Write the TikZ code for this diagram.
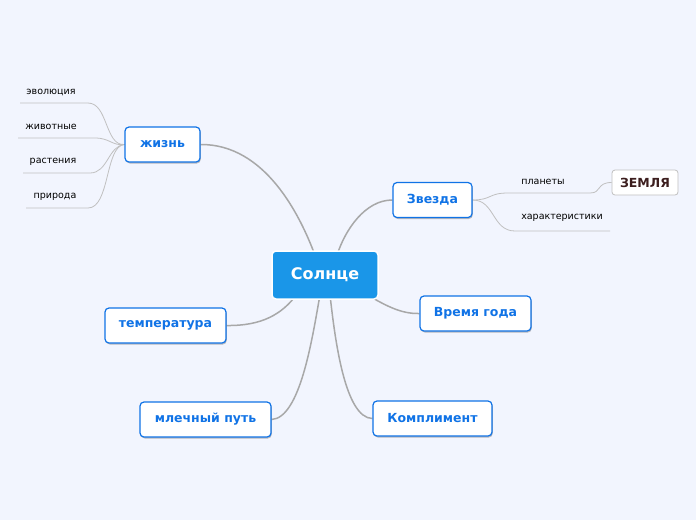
\documentclass[tikz,border=0pt]{standalone}
\usepackage{fontspec}
\setmainfont{DejaVu Sans}
\usetikzlibrary{shadows,calc}
\definecolor{bg}{RGB}{242,245,254}
\definecolor{mainblue}{RGB}{26,150,232}
\definecolor{txtblue}{RGB}{16,115,230}
\definecolor{edgegrey}{RGB}{168,168,168}
\definecolor{leafgrey}{RGB}{192,192,192}
\definecolor{earth}{RGB}{60,30,30}
\pgfdeclarelayer{bglayer}
\pgfdeclarelayer{edgelayer}
\pgfsetlayers{bglayer,edgelayer,main}
\begin{document}
\begin{tikzpicture}[x=1pt,y=-1pt,
  topic/.style={draw=txtblue, line width=1.2pt, fill=white, rounded corners=4pt,
    text=txtblue, font=\bfseries\fontsize{12.5}{14}\selectfont,
    minimum height=35pt, inner xsep=0pt,
    drop shadow={shadow xshift=0.8pt, shadow yshift=-1.5pt, fill=black, opacity=0.25}},
  central/.style={draw=white, line width=1.5pt, fill=mainblue, rounded corners=4pt,
    text=white, font=\bfseries\fontsize{16}{18}\selectfont,
    minimum width=106pt, minimum height=48pt, inner xsep=0pt},
  earthbox/.style={draw=leafgrey, line width=0.8pt, fill=white, rounded corners=3pt,
    text=earth, font=\bfseries\fontsize{12.5}{14}\selectfont,
    minimum width=66pt, minimum height=25pt, inner xsep=0pt},
  leaf/.style={text=black, font=\fontsize{9.5}{11}\selectfont, inner sep=0pt},
  mainedge/.style={draw=edgegrey, line width=1.5pt},
  leafedge/.style={draw=leafgrey, line width=0.8pt}
]
\begin{pgfonlayer}{bglayer}
\fill[bg] (0,0) rectangle (696,520);
\end{pgfonlayer}
\useasboundingbox (0,0) rectangle (696,520);

\node[central] (sun) at (325,275) {Солнце};
\node[topic, minimum width=75pt] (jizn) at (162.5,144.5) {жизнь};
\node[topic, minimum width=79pt] (zvezda) at (432.5,200) {Звезда};
\node[topic, minimum width=111pt] (vremya) at (475.5,313.5) {Время года};
\node[topic, minimum width=119pt] (kompl) at (432.5,418.5) {Комплимент};
\node[topic, minimum width=131pt] (mlech) at (205.5,419.5) {млечный путь};
\node[topic, minimum width=121pt] (temp) at (165.5,325.5) {температура};
\node[earthbox] (zemlya) at (645,182.5) {ЗЕМЛЯ};

\node[leaf] (evol) at (51,92) {эволюция};
\node[leaf] (zhiv) at (51,127) {животные};
\node[leaf] (rast) at (53,162) {растения};
\node[leaf] (prir) at (55,197) {природа};
\node[leaf] (plan) at (543,182) {планеты};
\node[leaf] (char) at (562,218) {характеристики};

\coordinate (evolL) at (20,103);
\coordinate (zhivL) at (18,138);
\coordinate (rastL) at (23,173);
\coordinate (prirL) at (26,208);
\coordinate (charR) at (610,231);

\begin{pgfonlayer}{edgelayer}
\draw[mainedge] (jizn.east) .. controls (265,144) and (300,215) .. ($(sun.north)+(-10,5)$);
\draw[mainedge] (zvezda.west) .. controls (365,200) and (345,230) .. ($(sun.north)+(12,5)$);
\draw[mainedge] (vremya.west) .. controls (400,314) and (385,305) .. ($(sun.east)+(-15,18)$);
\draw[mainedge] (kompl.west) .. controls (345,418) and (335,340) .. ($(sun.south)+(5,-5)$);
\draw[mainedge] (mlech.east) .. controls (300,418) and (312,340) .. ($(sun.south)+(-5,-5)$);
\draw[mainedge] (temp.east) .. controls (262,326) and (282,314) .. ($(sun.west)+(25,20)$);

\draw[leafedge] (jizn.west) .. controls (105,146) and (108,103) .. (88,103) -- (evolL);
\draw[leafedge] (jizn.west) .. controls (112,146) and (110,138) .. (95,138) -- (zhivL);
\draw[leafedge] (jizn.west) .. controls (108,146) and (108,173) .. (90,173) -- (rastL);
\draw[leafedge] (jizn.west) .. controls (105,146) and (110,208) .. (88,208) -- (prirL);

\draw[leafedge] (zvezda.east) .. controls (492,200) and (488,193) .. (508,193) -- (590,193)
  .. controls (602,193) and (596,182.5) .. (zemlya.west);
\draw[leafedge] (zvezda.east) .. controls (495,200) and (492,231) .. (515,231) -- (charR);
\end{pgfonlayer}
\end{tikzpicture}
\end{document}
